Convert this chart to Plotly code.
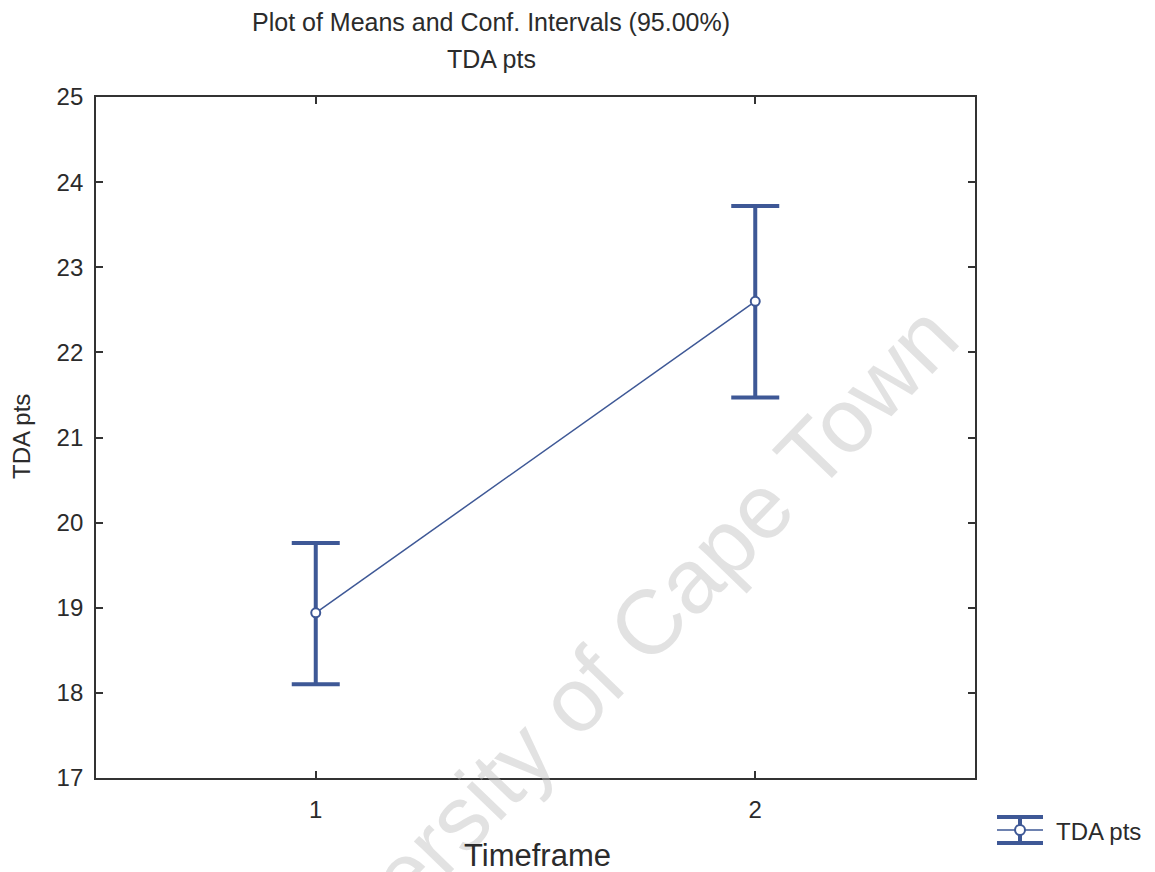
import plotly.graph_objects as go

# Data
timeframe = [1, 2]
means = [18.94, 22.60]
ci_upper = [19.76, 23.72]
ci_lower = [18.10, 21.47]
y_ticks = [17, 18, 19, 20, 21, 22, 23, 24, 25]
x_ticks = [1, 2]

BLUE = "#3E5896"
FONT = "Liberation Sans, Arial, sans-serif"
TXT = "#2b2b2b"

err_plus = [u - m for u, m in zip(ci_upper, means)]
err_minus = [m - l for m, l in zip(means, ci_lower)]

fig = go.Figure()
fig.add_trace(go.Scatter(
    x=timeframe, y=means, mode="lines+markers", name="TDA pts",
    line=dict(color=BLUE, width=1.5),
    marker=dict(symbol="circle", size=9, color="white", line=dict(color=BLUE, width=2)),
    error_y=dict(type="data", symmetric=False, array=err_plus, arrayminus=err_minus,
                 color=BLUE, thickness=4, width=24),
    showlegend=False,
))

W, H = 1155, 872
ml, mr, mt, mb = 96, 180, 97, 94
pw, ph = W - ml - mr, H - mt - mb

def px(x):
    return (x - ml) / pw

def py(y):
    return (H - mb - y) / ph

shapes = []
# Legend symbol
lx0, lx1, lxc = 997, 1043, 1020
shapes.append(dict(type="line", xref="paper", yref="paper", x0=px(lx0), x1=px(lx1), y0=py(817), y1=py(817), line=dict(color=BLUE, width=4)))
shapes.append(dict(type="line", xref="paper", yref="paper", x0=px(lx0), x1=px(lx1), y0=py(843), y1=py(843), line=dict(color=BLUE, width=4)))
shapes.append(dict(type="line", xref="paper", yref="paper", x0=px(lx0), x1=px(lx1), y0=py(830), y1=py(830), line=dict(color=BLUE, width=1.5)))
shapes.append(dict(type="line", xref="paper", yref="paper", x0=px(lxc), x1=px(lxc), y0=py(817), y1=py(843), line=dict(color=BLUE, width=4)))
shapes.append(dict(type="circle", xref="paper", yref="paper", x0=px(lxc - 5), x1=px(lxc + 5), y0=py(825), y1=py(835), line=dict(color=BLUE, width=2), fillcolor="white"))

annotations = [
    dict(text="University of Cape Town", xref="paper", yref="paper", x=px(600), y=py(672), showarrow=False, textangle=-46, font=dict(size=91, color="rgba(185,185,185,0.42)", family=FONT), xanchor="center", yanchor="middle"),
    dict(text="Plot of Means and Conf. Intervals (95.00%)", xref="paper", yref="paper", x=px(491), y=py(22), showarrow=False, font=dict(size=25, color=TXT, family=FONT), xanchor="center", yanchor="middle"),
    dict(text="TDA pts", xref="paper", yref="paper", x=px(491), y=py(59), showarrow=False, font=dict(size=25, color=TXT, family=FONT), xanchor="center", yanchor="middle"),
    dict(text="TDA pts", xref="paper", yref="paper", x=px(1054), y=py(831), showarrow=False, font=dict(size=24, color=TXT, family=FONT), xanchor="left", yanchor="middle"),
    dict(text="TDA pts", xref="paper", yref="paper", x=px(21), y=py(437), showarrow=False, textangle=-90, font=dict(size=24, color=TXT, family=FONT), xanchor="center", yanchor="middle"),
    dict(text="Timeframe", xref="paper", yref="paper", x=px(537), y=py(855), showarrow=False, font=dict(size=31, color=TXT, family=FONT), xanchor="center", yanchor="middle"),
]

fig.update_layout(
    width=W, height=H,
    margin=dict(l=ml, r=mr, t=mt, b=mb),
    paper_bgcolor="white", plot_bgcolor="white",
    font=dict(family=FONT, color=TXT, size=24),
    shapes=shapes, annotations=annotations,
    xaxis=dict(range=[0.5, 2.5], tickvals=x_ticks, ticktext=[str(v) for v in x_ticks],
               ticks="inside", ticklen=7, tickwidth=1.5, tickcolor="#333", mirror="ticks",
               showline=True, linecolor="#333", linewidth=1.8, showgrid=False, zeroline=False,
               tickfont=dict(size=24), ticklabelstandoff=9),
    yaxis=dict(range=[17, 25], tickvals=y_ticks, ticks="inside", ticklen=7, tickwidth=1.5, tickcolor="#333",
               mirror="ticks", showline=True, linecolor="#333", linewidth=1.8, showgrid=False, zeroline=False,
               tickfont=dict(size=24), ticklabelstandoff=6),
)

fig.write_html("out.html")
